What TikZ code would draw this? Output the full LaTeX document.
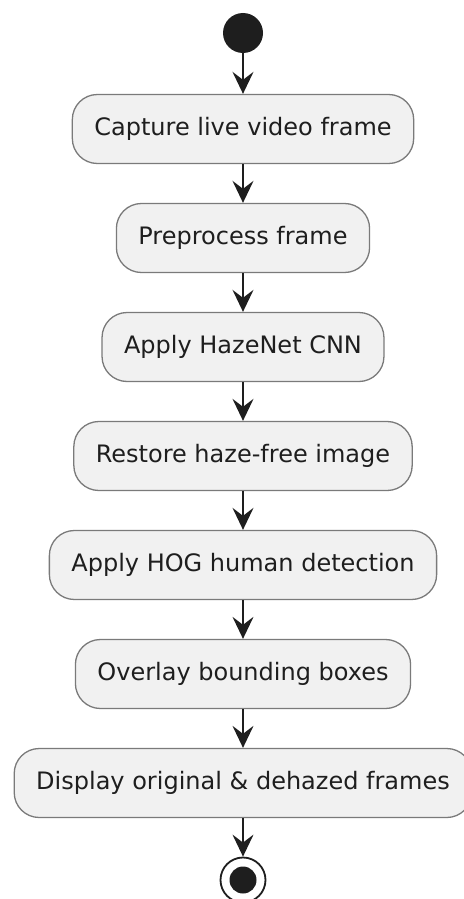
\documentclass[tikz,border=0pt]{standalone}
\usepackage{fontspec}
\setmainfont{DejaVu Sans}
\usetikzlibrary{arrows.meta}
\definecolor{boxfill}{HTML}{F1F1F1}
\definecolor{boxline}{HTML}{7A7A7A}
\definecolor{ink}{HTML}{1E1E1E}
\begin{document}
\begin{tikzpicture}[x=1pt,y=-1pt,
  act/.style={draw=boxline, line width=1.3pt, fill=boxfill, rounded corners=25pt,
    minimum height=69pt, inner xsep=22pt, inner ysep=0pt, text=ink,
    font=\fontsize{24}{28}\selectfont},
  flow/.style={draw=ink, line width=1.8pt, -{Stealth[length=22pt,width=21pt,inset=8pt]}},
]
\useasboundingbox (0,0) rectangle (463,899);
\node[circle, fill=ink, minimum size=40pt, inner sep=0pt] (start) at (243,33) {};
\node[act] (a1) at (243,129) {Capture live video frame};
\node[act] (a2) at (243,238) {Preprocess frame};
\node[act] (a3) at (243,347) {Apply HazeNet CNN};
\node[act] (a4) at (243,456) {Restore haze-free image};
\node[act] (a5) at (243,565) {Apply HOG human detection};
\node[act] (a6) at (243,674) {Overlay bounding boxes};
\node[act] (a7) at (243,783) {Display original \& dehazed frames};
\node[circle, draw=ink, line width=1.8pt, fill=white, minimum size=45pt, inner sep=0pt] (stop) at (243,880) {};
\node[circle, fill=ink, minimum size=27pt, inner sep=0pt] (stopdot) at (stop.center) {};
\draw[flow] (start) -- (a1);
\draw[flow] (a1) -- (a2);
\draw[flow] (a2) -- (a3);
\draw[flow] (a3) -- (a4);
\draw[flow] (a4) -- (a5);
\draw[flow] (a5) -- (a6);
\draw[flow] (a6) -- (a7);
\draw[flow] (a7) -- (stop);
\end{tikzpicture}
\end{document}
